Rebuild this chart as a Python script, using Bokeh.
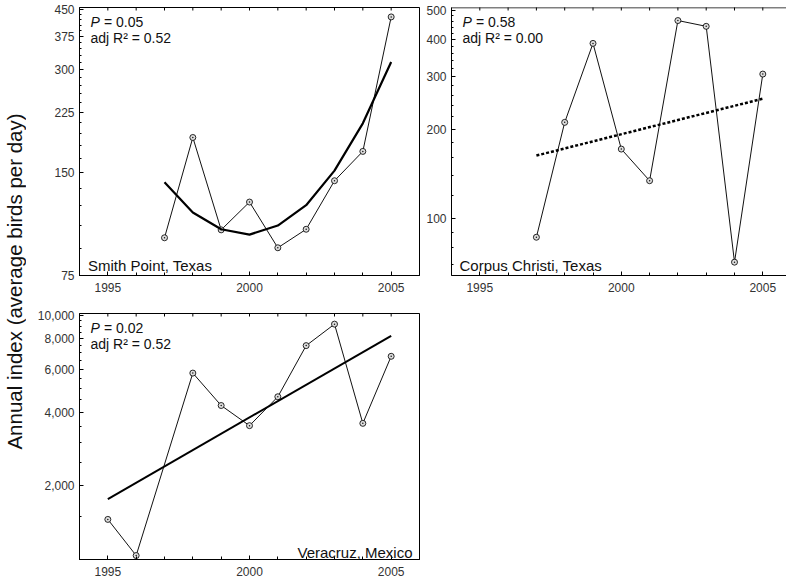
import math
from bokeh.plotting import figure
from bokeh.layouts import row, column
from bokeh.models import FixedTicker, NumeralTickFormatter, Label, Span
from bokeh.embed import file_html
from bokeh.resources import INLINE

# ---------------- data ----------------
all_years = list(range(1994, 2007))
major_years = [1995, 2000, 2005]

sp_years = [1997, 1998, 1999, 2000, 2001, 2002, 2003, 2004, 2005]
sp_index = [96.7, 190, 102, 123, 90.4, 102.4, 142, 173, 428]
sp_fit = [140.5, 114.6, 102.4, 98.8, 105, 120.4, 152, 209, 316]

cc_years = [1997, 1998, 1999, 2000, 2001, 2002, 2003, 2004, 2005]
cc_index = [86.7, 210.7, 388, 171.4, 134.2, 462.9, 442.6, 71.5, 306]
cc_trend_years = [1997, 2005]
cc_trend = [163, 253]

vc_years = [1995, 1996, 1998, 1999, 2000, 2001, 2002, 2003, 2004, 2005]
vc_index = [1459, 1038, 5790, 4266, 3529, 4633, 7500, 9183, 3606, 6782]
vc_trend_years = [1995, 2005]
vc_trend = [1768, 8222]

sp_ticks = [75, 150, 225, 300, 375, 450]
sp_minor = list(range(75, 460, 15))
cc_ticks = [100, 200, 300, 400, 500]
cc_minor = [70, 80, 90] + list(range(100, 520, 20))
vc_ticks = [2000, 4000, 6000, 8000, 10000]
vc_minor = list(range(1000, 10500, 500))

FONT = "Liberation Sans"
INK = "#111111"


def panel(x_end, y_range, yticks, yminor, fw, fh, mbl, mbr, mbt, mbb, outline=True):
    p = figure(frame_width=fw, frame_height=fh, x_range=(1994, x_end), y_range=y_range,
               y_axis_type="log", toolbar_location=None, output_backend="svg",
               min_border_left=mbl, min_border_right=mbr, min_border_top=mbt,
               min_border_bottom=mbb)
    p.xgrid.visible = False
    p.ygrid.visible = False
    p.outline_line_color = "black" if outline else None
    p.outline_line_alpha = 1
    p.outline_line_width = 1

    xa = p.xaxis[0]
    xa.ticker = FixedTicker(ticks=major_years, minor_ticks=all_years)
    xa.major_tick_in = 4
    xa.major_tick_out = 0
    xa.minor_tick_in = 3
    xa.minor_tick_out = 0
    xa.major_label_standoff = 7
    xa.major_label_text_font = FONT
    xa.major_label_text_font_size = "12px"
    xa.major_label_text_color = "#333333"
    xa.axis_line_color = "black"
    xa.major_tick_line_color = "black"
    xa.minor_tick_line_color = "black"

    ya = p.yaxis[0]
    ya.ticker = FixedTicker(ticks=yticks, minor_ticks=yminor)
    ya.formatter = NumeralTickFormatter(format="0,0")
    ya.major_tick_in = 4
    ya.major_tick_out = 0
    ya.minor_tick_in = 2
    ya.minor_tick_out = 0
    ya.major_label_standoff = 5
    ya.major_label_text_font = FONT
    ya.major_label_text_font_size = "12px"
    ya.major_label_text_color = "#333333"
    ya.axis_line_color = "black"
    ya.major_tick_line_color = "black"
    ya.minor_tick_line_color = "black"

    # inward tick marks along the top edge (half of each vertical dash is clipped)
    ytop = y_range[1]
    p.scatter(all_years, [ytop] * len(all_years), marker="dash", angle=math.pi / 2,
              size=6, line_color="black", line_width=1)
    if not outline:
        p.add_layout(Span(location=ytop, dimension="width", line_color="black",
                          line_width=1.5))
    return p


def stats(p, x0, ytop, pval, r2):
    p.add_layout(Label(x=x0, y=ytop, x_offset=11, y_offset=-6, text="P",
                       text_font=FONT, text_font_style="italic", text_font_size="14px",
                       text_baseline="top", text_color=INK))
    p.add_layout(Label(x=x0, y=ytop, x_offset=24.5, y_offset=-6, text="= " + pval,
                       text_font=FONT, text_font_size="14px",
                       text_baseline="top", text_color=INK))
    p.add_layout(Label(x=x0, y=ytop, x_offset=11, y_offset=-22, text="adj R\u00b2 = " + r2,
                       text_font=FONT, text_font_size="14px",
                       text_baseline="top", text_color=INK))


def series(p, xs, ys):
    p.line(xs, ys, line_color=INK, line_width=1)
    p.scatter(xs, ys, marker="circle_dot", size=6, fill_color="#dddddd",
              line_color=INK, line_width=0.9)


LAB_W = 26
TOTAL_H = 579

# ---------------- Smith Point ----------------
p1 = panel(2006, (75, 456), sp_ticks, sp_minor, 340, 268, 79 - LAB_W, 2, 7, 22)
series(p1, sp_years, sp_index)
p1.line(sp_years, sp_fit, line_color="black", line_width=2.2)
stats(p1, 1994, 456, "0.05", "0.52")
p1.add_layout(Label(x=1994, y=75, x_offset=8.5, y_offset=10, text="Smith Point, Texas",
                    text_font=FONT, text_font_size="15px", text_baseline="alphabetic",
                    text_color=INK))

# ---------------- Corpus Christi ----------------
p2_fw = 335
p2 = panel(1994 + p2_fw / 28.3, (64.5, 512), cc_ticks, cc_minor, p2_fw, 268, 30, 0, 7, 22,
           outline=False)
series(p2, cc_years, cc_index)
p2.line(cc_trend_years, cc_trend, line_color="black", line_width=2.5, line_dash="3 2")
stats(p2, 1994, 512, "0.58", "0.00")
p2.add_layout(Label(x=1994, y=64.5, x_offset=8, y_offset=10, text="Corpus Christi, Texas",
                    text_font=FONT, text_font_size="15px", text_baseline="alphabetic",
                    text_color=INK))

# ---------------- Veracruz ----------------
p3 = panel(2006, (1000, 10150), vc_ticks, vc_minor, 340, 246, 79 - LAB_W, 2, 16, 20)
series(p3, vc_years, vc_index)
p3.line(vc_trend_years, vc_trend, line_color="black", line_width=2)
stats(p3, 1994, 10150, "0.02", "0.52")
p3.add_layout(Label(x=2006, y=1000, x_offset=-7, y_offset=7, text="Veracruz, Mexico",
                    text_font=FONT, text_font_size="15px", text_baseline="alphabetic",
                    text_align="right", text_color=INK))

# ---------------- shared y label ----------------
lab = figure(frame_width=LAB_W, frame_height=TOTAL_H, x_range=(0, LAB_W),
             y_range=(0, TOTAL_H), toolbar_location=None, output_backend="svg",
             min_border=0, x_axis_location=None, y_axis_location=None)
lab.outline_line_color = None
lab.grid.visible = False
lab.add_layout(Label(x=14, y=TOTAL_H - 281, text="Annual index (average birds per day)",
                     angle=math.pi / 2, text_align="center", text_baseline="middle",
                     text_font=FONT, text_font_size="20.5px", text_color=INK))

layout = row(lab, column(row(p1, p2), p3))

open("out.html", "w").write(file_html(layout, INLINE))
